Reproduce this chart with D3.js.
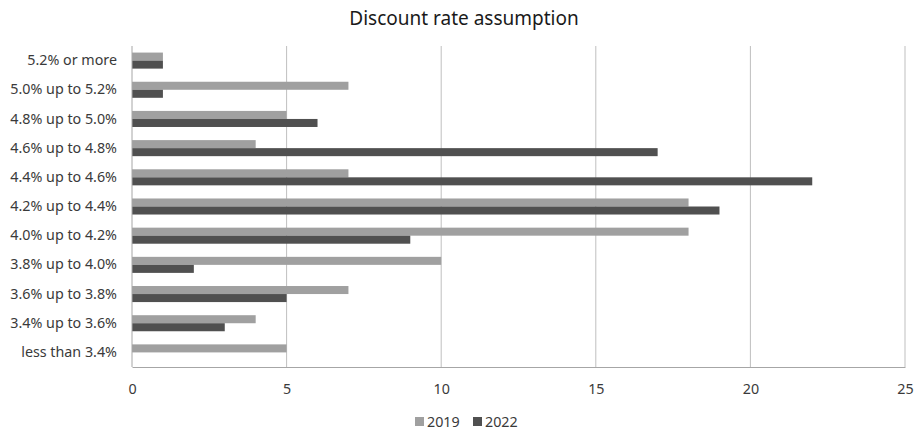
<!DOCTYPE html>
<html>
<head>
<meta charset="utf-8">
<script src="https://cdn.jsdelivr.net/npm/d3@7"></script>
<style>
  html, body { margin: 0; padding: 0; background: #fff; }
  svg { display: block; font-family: "Noto Sans", "Open Sans", sans-serif; }
</style>
</head>
<body>
<svg id="chart" width="914" height="432"></svg>
<script>
// Discount rate buckets, top to bottom
const categories = [
  "5.2% or more", "5.0% up to 5.2%", "4.8% up to 5.0%", "4.6% up to 4.8%",
  "4.4% up to 4.6%", "4.2% up to 4.4%", "4.0% up to 4.2%", "3.8% up to 4.0%",
  "3.6% up to 3.8%", "3.4% up to 3.6%", "less than 3.4%"
];
const seriesNames = ["2019", "2022"];
const values2019 = [1, 7, 5, 4, 7, 18, 18, 10, 7, 4, 5];
const values2022 = [1, 1, 6, 17, 22, 19, 9, 2, 5, 3, 0];
const xTicks = [0, 5, 10, 15, 20, 25];
const colors = ["#a0a0a0", "#505050"];

const svg = d3.select("#chart");
const margin = { left: 132, right: 9, top: 46, bottom: 65 };
const W = 914, H = 432;
const labelSize = 14.3;

const x = d3.scaleLinear().domain([0, 25]).range([margin.left, W - margin.right]);
const y = d3.scaleBand().domain(categories).range([margin.top, H - margin.bottom]).paddingInner(0.45).paddingOuter(0.225);
const ySub = d3.scaleBand().domain(seriesNames).range([0, y.bandwidth()]);

// title
svg.append("text")
  .attr("x", 464).attr("y", 25)
  .attr("text-anchor", "middle")
  .attr("font-size", 19).attr("fill", "#1a1a1a")
  .text("Discount rate assumption");

// vertical gridlines
svg.append("g").selectAll("line").data(xTicks.slice(1)).join("line")
  .attr("x1", d => x(d)).attr("x2", d => x(d))
  .attr("y1", margin.top).attr("y2", H - margin.bottom)
  .attr("stroke", "#bfbfbf").attr("stroke-width", 1);

// bars
const rows = categories.map((c, i) => ({ c, vals: [values2019[i], values2022[i]] }));
const g = svg.append("g");
rows.forEach(r => {
  r.vals.forEach((v, k) => {
    g.append("rect")
      .attr("x", x(0))
      .attr("y", y(r.c) + ySub(seriesNames[k]))
      .attr("width", x(v) - x(0))
      .attr("height", ySub.bandwidth())
      .attr("fill", colors[k]);
  });
});

// left axis line
svg.append("line")
  .attr("x1", x(0)).attr("x2", x(0))
  .attr("y1", margin.top).attr("y2", H - margin.bottom)
  .attr("stroke", "#a6a6a6");

// bottom axis
const xAxis = svg.append("g")
  .attr("transform", `translate(0,${H - margin.bottom})`)
  .call(d3.axisBottom(x).tickValues(xTicks).tickSize(0).tickPadding(17));
xAxis.select(".domain").attr("stroke", "#a6a6a6");
xAxis.selectAll("text").attr("font-size", labelSize).attr("fill", "#3a3a3a").attr("font-family", "Noto Sans, sans-serif");

// category labels
const yAxis = svg.append("g")
  .attr("transform", `translate(${margin.left},0)`)
  .call(d3.axisLeft(y).tickSize(0).tickPadding(15));
yAxis.select(".domain").remove();
yAxis.selectAll("text").attr("font-size", labelSize).attr("fill", "#3a3a3a").attr("font-family", "Noto Sans, sans-serif");

// legend
const legend = svg.append("g").attr("transform", "translate(415,427)");
const legendX = [0, 58];
seriesNames.forEach((s, k) => {
  legend.append("rect").attr("x", legendX[k]).attr("y", -10).attr("width", 9).attr("height", 9).attr("fill", colors[k]);
  legend.append("text").attr("x", legendX[k] + 12).attr("y", 0)
    .attr("font-size", labelSize).attr("fill", "#3a3a3a").text(s);
});
</script>
</body>
</html>
